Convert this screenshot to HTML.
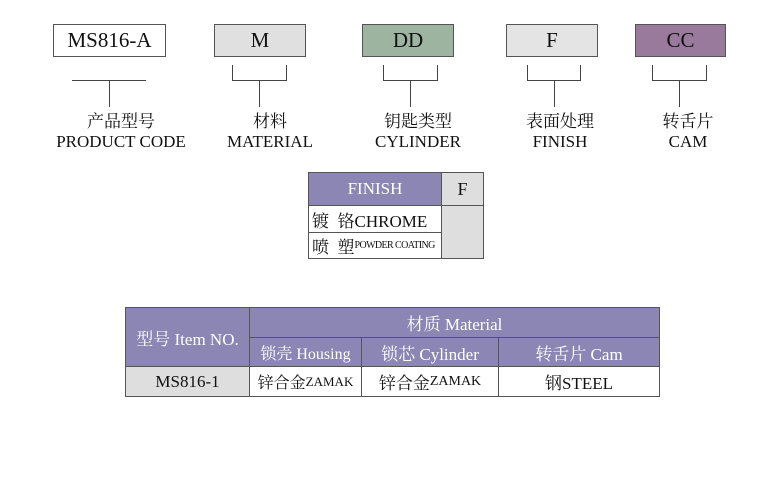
<!DOCTYPE html>
<html><head><meta charset="utf-8"><style>
body{margin:0;width:778px;height:500px;background:#fff;position:relative;font-family:"Liberation Serif","Noto Serif CJK SC",serif;color:#111;overflow:hidden}
.a{position:absolute;box-sizing:border-box}
.box{border:1px solid #555;height:33px;top:24px;font-size:21px;text-align:center;line-height:31px}
.l{position:absolute;background:#444}
.t{position:absolute;text-align:center;font-size:17px;line-height:20px;white-space:nowrap}
.c{position:absolute;box-sizing:border-box;border:1px solid #555;white-space:nowrap;overflow:hidden;display:flex;align-items:center;justify-content:center}
.p{background:#8c86b4;color:#fff}
.g{background:#dedede}
</style></head><body>
<div class="a box" style="left:53px;width:113px;background:#fff">MS816-A</div>
<div class="a box" style="left:214px;width:92px;background:#e0e0e0">M</div>
<div class="a box" style="left:362px;width:92px;background:#9db4a0">DD</div>
<div class="a box" style="left:506px;width:92px;background:#e4e4e4">F</div>
<div class="a box" style="left:635px;width:91px;background:#9a7a9c">CC</div>

<div class="l" style="left:72px;top:80px;width:74px;height:1px"></div>
<div class="l" style="left:109px;top:80px;width:1px;height:27px"></div>

<div class="l" style="left:232px;top:65px;width:1px;height:15px"></div><div class="l" style="left:286px;top:65px;width:1px;height:15px"></div><div class="l" style="left:232px;top:80px;width:55px;height:1px"></div><div class="l" style="left:259px;top:80px;width:1px;height:27px"></div>
<div class="l" style="left:383px;top:65px;width:1px;height:15px"></div><div class="l" style="left:437px;top:65px;width:1px;height:15px"></div><div class="l" style="left:383px;top:80px;width:55px;height:1px"></div><div class="l" style="left:410px;top:80px;width:1px;height:27px"></div>
<div class="l" style="left:527px;top:65px;width:1px;height:15px"></div><div class="l" style="left:580px;top:65px;width:1px;height:15px"></div><div class="l" style="left:527px;top:80px;width:54px;height:1px"></div><div class="l" style="left:554px;top:80px;width:1px;height:27px"></div>
<div class="l" style="left:652px;top:65px;width:1px;height:15px"></div><div class="l" style="left:706px;top:65px;width:1px;height:15px"></div><div class="l" style="left:652px;top:80px;width:55px;height:1px"></div><div class="l" style="left:679px;top:80px;width:1px;height:27px"></div>

<div class="t" style="left:21px;width:200px;top:112px">产品型号<br>PRODUCT CODE</div>
<div class="t" style="left:170px;width:200px;top:112px">材料<br>MATERIAL</div>
<div class="t" style="left:318px;width:200px;top:112px">钥匙类型<br>CYLINDER</div>
<div class="t" style="left:460px;width:200px;top:112px">表面处理<br>FINISH</div>
<div class="t" style="left:588px;width:200px;top:112px">转舌片<br>CAM</div>

<div class="c p" style="left:308px;top:172px;width:134px;height:34px;font-size:17px">FINISH</div>
<div class="c g" style="left:441px;top:172px;width:43px;height:34px;font-size:18px">F</div>
<div class="c" style="left:308px;top:205px;width:134px;height:28px;font-size:17px;justify-content:flex-start;padding-left:3px">镀&nbsp;&nbsp;铬CHROME</div>
<div class="c" style="left:308px;top:232px;width:134px;height:27px;font-size:17px;justify-content:flex-start;padding-left:3px">喷&nbsp;&nbsp;塑<span style="font-size:10px;letter-spacing:-0.6px">POWDER COATING</span></div>
<div class="c g" style="left:441px;top:205px;width:43px;height:54px"></div>

<div class="c p" style="left:125px;top:307px;width:125px;height:60px;font-size:17px">型号 Item NO.</div>
<div class="c p" style="left:249px;top:307px;width:411px;height:31px;font-size:17px">材质 Material</div>
<div class="c p" style="left:249px;top:337px;width:113px;height:30px;font-size:16px">锁壳 Housing</div>
<div class="c p" style="left:361px;top:337px;width:138px;height:30px;font-size:17px">锁芯 Cylinder</div>
<div class="c p" style="left:498px;top:337px;width:162px;height:30px;font-size:17px">转舌片 Cam</div>
<div class="c g" style="left:125px;top:366px;width:125px;height:31px;font-size:17px">MS816-1</div>
<div class="c" style="left:249px;top:366px;width:113px;height:31px;font-size:16px">锌合金<span style="font-size:13px">ZAMAK</span></div>
<div class="c" style="left:361px;top:366px;width:138px;height:31px;font-size:17px">锌合金<span style="font-size:14px">ZAMAK</span></div>
<div class="c" style="left:498px;top:366px;width:162px;height:31px;font-size:17px">钢STEEL</div>
</body></html>
